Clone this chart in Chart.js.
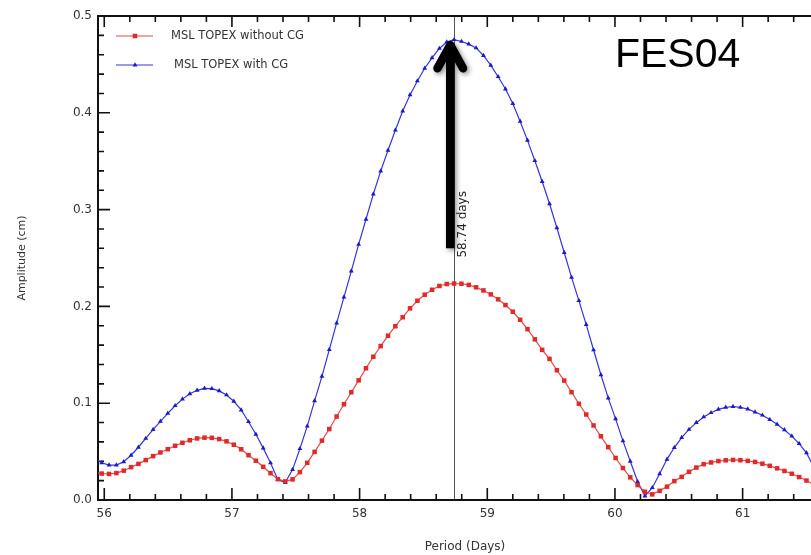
<!DOCTYPE html>
<html>
<head>
<meta charset="utf-8">
<title>FES04 amplitude spectrum</title>
<script src="https://cdn.jsdelivr.net/npm/chart.js@4.4.1/dist/chart.umd.min.js"></script>
<style>
  html, body { margin: 0; padding: 0; background: #fff; overflow: hidden; }
  #wrap { width: 840px; height: 555px; }
</style>
</head>
<body>
<div id="wrap"><canvas id="amp" width="840" height="555"></canvas></div>
<script>
// period axis (days)
const periods = [
  55.9225, 55.98, 56.0375, 56.095, 56.1525, 56.21, 56.2675, 56.325, 56.3825, 56.44,
  56.4975, 56.555, 56.6125, 56.67, 56.7275, 56.785, 56.8425, 56.9, 56.9575, 57.015,
  57.0725, 57.13, 57.1875, 57.245, 57.3025, 57.36, 57.4175, 57.475, 57.5325, 57.59,
  57.6475, 57.705, 57.7625, 57.82, 57.8775, 57.935, 57.9925, 58.05, 58.1075, 58.165,
  58.2225, 58.28, 58.3375, 58.395, 58.4525, 58.51, 58.5675, 58.625, 58.6825, 58.74,
  58.7975, 58.855, 58.9125, 58.97, 59.0275, 59.085, 59.1425, 59.2, 59.2575, 59.315,
  59.3725, 59.43, 59.4875, 59.545, 59.6025, 59.66, 59.7175, 59.775, 59.8325, 59.89,
  59.9475, 60.005, 60.0625, 60.12, 60.1775, 60.235, 60.2925, 60.35, 60.4075, 60.465,
  60.5225, 60.58, 60.6375, 60.695, 60.7525, 60.81, 60.8675, 60.925, 60.9825, 61.04,
  61.0975, 61.155, 61.2125, 61.27, 61.3275, 61.385, 61.4425, 61.5, 61.5575
];

// amplitude (cm), MSL TOPEX without CG
const ampWithoutCG = [
  0.0282, 0.0273, 0.0269, 0.0278, 0.0303, 0.0339, 0.0373, 0.0412, 0.0453, 0.0491,
  0.0525, 0.0560, 0.0591, 0.0617, 0.0636, 0.0644, 0.0642, 0.0629, 0.0606, 0.0571,
  0.0524, 0.0463, 0.0406, 0.0343, 0.0277, 0.0215, 0.0192, 0.0213, 0.0288, 0.0384,
  0.0497, 0.0613, 0.0733, 0.0862, 0.0989, 0.1113, 0.1236, 0.1361, 0.1480, 0.1590,
  0.1697, 0.1795, 0.1888, 0.1980, 0.2058, 0.2121, 0.2172, 0.2211, 0.2231, 0.2236,
  0.2234, 0.2222, 0.2197, 0.2165, 0.2124, 0.2073, 0.2014, 0.1945, 0.1862, 0.1765,
  0.1660, 0.1551, 0.1458, 0.1340, 0.1234, 0.1114, 0.0994, 0.0883, 0.0770, 0.0658,
  0.0546, 0.0434, 0.0330, 0.0234, 0.0154, 0.0085, 0.0058, 0.0095, 0.0138, 0.0195,
  0.0239, 0.0291, 0.0335, 0.0370, 0.0388, 0.0402, 0.0410, 0.0414, 0.0411, 0.0404,
  0.0393, 0.0375, 0.0353, 0.0327, 0.0300, 0.0271, 0.0237, 0.0201, 0.0160
];

// amplitude (cm), MSL TOPEX with CG
const ampWithCG = [
  0.0425, 0.0385, 0.0360, 0.0360, 0.0395, 0.0462, 0.0545, 0.0636, 0.0727, 0.0813,
  0.0895, 0.0974, 0.1042, 0.1097, 0.1133, 0.1153, 0.1150, 0.1127, 0.1085, 0.1020,
  0.0930, 0.0809, 0.0679, 0.0536, 0.0383, 0.0210, 0.0180, 0.0314, 0.0530, 0.0763,
  0.1024, 0.1277, 0.1553, 0.1828, 0.2096, 0.2365, 0.2640, 0.2900, 0.3160, 0.3398,
  0.3613, 0.3820, 0.4018, 0.4185, 0.4329, 0.4460, 0.4568, 0.4665, 0.4732, 0.4755,
  0.4737, 0.4709, 0.4670, 0.4592, 0.4490, 0.4373, 0.4246, 0.4095, 0.3911, 0.3715,
  0.3505, 0.3290, 0.3060, 0.2812, 0.2557, 0.2300, 0.2060, 0.1812, 0.1550, 0.1294,
  0.1052, 0.0838, 0.0611, 0.0400, 0.0191, 0.0040, 0.0127, 0.0271, 0.0420, 0.0542,
  0.0645, 0.0729, 0.0799, 0.0858, 0.0902, 0.0936, 0.0957, 0.0966, 0.0956, 0.0940,
  0.0908, 0.0876, 0.0831, 0.0782, 0.0724, 0.0660, 0.0582, 0.0487, 0.0340
];

const seriesNames = ['MSL TOPEX without CG', 'MSL TOPEX with CG'];
const xTickValues = [56, 57, 58, 59, 60, 61];
const yTickValues = [0.0, 0.1, 0.2, 0.3, 0.4, 0.5];
const peakPeriod = 58.74;
const modelName = 'FES04';

const FONT = 'DejaVu Sans';
const RED_LINE = '#e24a4a', RED_PT = '#e02a2a';
const BLUE_LINE = '#3636d8', BLUE_PT = '#1a1acc';

Chart.defaults.font.family = FONT;

function toPoints(vals) {
  return periods.map((p, i) => ({ x: p, y: vals[i] }));
}

// axis box with inward ticks, peak marker line
const framePlugin = {
  id: 'frame',
  beforeDatasetsDraw(chart) {
    const { ctx, chartArea: a, scales: { x, y } } = chart;
    ctx.save();
    // peak line
    const px = x.getPixelForValue(peakPeriod);
    ctx.strokeStyle = '#555';
    ctx.lineWidth = 1;
    ctx.beginPath();
    ctx.moveTo(Math.round(px) + 0.5, a.top);
    ctx.lineTo(Math.round(px) + 0.5, a.bottom);
    ctx.stroke();

    ctx.strokeStyle = '#111';
    ctx.lineWidth = 1.6;
    ctx.beginPath();
    for (let i = 0; i <= 28; i++) {
      const v = 56 + i * 0.2;
      const xp = x.getPixelForValue(v);
      const big = i % 5 === 0;
      ctx.moveTo(xp, a.bottom);
      ctx.lineTo(xp, a.bottom - (big ? 12 : 6));
      ctx.moveTo(xp, a.top);
      ctx.lineTo(xp, a.top + (big ? 11 : 6));
    }
    for (let i = 0; i <= 25; i++) {
      const yp = y.getPixelForValue(i * 0.02);
      const big = i % 5 === 0;
      ctx.moveTo(a.left, yp);
      ctx.lineTo(a.left + (big ? 12 : 6), yp);
    }
    ctx.stroke();

    ctx.lineWidth = 2;
    ctx.beginPath();
    ctx.moveTo(a.right, a.top);
    ctx.lineTo(a.left, a.top);
    ctx.lineTo(a.left, a.bottom);
    ctx.lineTo(a.right, a.bottom);
    ctx.stroke();
    ctx.restore();
  },
  afterDatasetsDraw(chart) {
    const { ctx, chartArea: a, scales: { x, y } } = chart;
    ctx.save();

    // big arrow pointing at the peak
    const ax = x.getPixelForValue(58.71);
    const yBase = y.getPixelForValue(0.26);
    const yTip = y.getPixelForValue(0.470);
    const yHead = y.getPixelForValue(0.446);
    const dx = x.getPixelForValue(58.71 + 0.10) - ax;
    ctx.shadowColor = 'rgba(0,0,0,0.45)';
    ctx.shadowBlur = 5;
    ctx.shadowOffsetX = 2;
    ctx.shadowOffsetY = 2;
    ctx.strokeStyle = '#000';
    ctx.lineWidth = 8.5;
    ctx.lineCap = 'butt';
    ctx.beginPath();
    ctx.moveTo(ax, yBase);
    ctx.lineTo(ax, yTip + 3);
    ctx.stroke();
    ctx.lineCap = 'round';
    ctx.lineJoin = 'round';
    ctx.beginPath();
    ctx.moveTo(ax - dx, yHead);
    ctx.lineTo(ax, yTip);
    ctx.lineTo(ax + dx, yHead);
    ctx.stroke();
    ctx.restore();

    // rotated peak label
    ctx.save();
    const lx = x.getPixelForValue(peakPeriod) + 12;
    const ly = y.getPixelForValue(0.2505);
    ctx.translate(lx, ly);
    ctx.rotate(-Math.PI / 2);
    ctx.fillStyle = '#222';
    ctx.font = '12px "' + FONT + '"';
    ctx.textAlign = 'left';
    ctx.textBaseline = 'alphabetic';
    ctx.fillText(peakPeriod.toFixed(2) + ' days', 0, 0);
    ctx.restore();

    // model name
    ctx.save();
    ctx.fillStyle = '#000';
    ctx.font = '41px "Liberation Sans"';
    ctx.textAlign = 'left';
    ctx.textBaseline = 'alphabetic';
    ctx.fillText(modelName, x.getPixelForValue(60.0), y.getPixelForValue(0.447));
    ctx.restore();

    // legend
    ctx.save();
    const rows = [
      { name: seriesNames[0], line: RED_LINE, pt: RED_PT, style: 'rect', r: 3.2, dy: 20, tx: 73 },
      { name: seriesNames[1], line: BLUE_LINE, pt: BLUE_PT, style: 'triangle', r: 2.8, dy: 49, tx: 76 }
    ];
    ctx.font = '11.5px "' + FONT + '"';
    ctx.textBaseline = 'middle';
    rows.forEach(r => {
      const ry = a.top + r.dy;
      ctx.strokeStyle = r.line;
      ctx.lineWidth = 1.2;
      ctx.beginPath();
      ctx.moveTo(a.left + 18, ry);
      ctx.lineTo(a.left + 55, ry);
      ctx.stroke();
      ctx.fillStyle = r.pt;
      Chart.helpers.drawPoint(ctx, { pointStyle: r.style, radius: r.r, rotation: 0, borderWidth: 0 }, a.left + 37, ry);
      ctx.fillStyle = '#333';
      ctx.fillText(r.name, a.left + r.tx, ry);
    });
    ctx.restore();
  }
};

new Chart(document.getElementById('amp'), {
  type: 'line',
  data: {
    datasets: [
      {
        label: seriesNames[0],
        data: toPoints(ampWithoutCG),
        borderColor: RED_LINE,
        borderWidth: 1.2,
        pointStyle: 'rect',
        pointRadius: 3.2,
        pointBorderWidth: 0,
        pointBackgroundColor: RED_PT,
        tension: 0
      },
      {
        label: seriesNames[1],
        data: toPoints(ampWithCG),
        borderColor: BLUE_LINE,
        borderWidth: 1.2,
        pointStyle: 'triangle',
        pointRadius: 2.8,
        pointBorderWidth: 0,
        pointBackgroundColor: BLUE_PT,
        tension: 0
      }
    ]
  },
  options: {
    responsive: false,
    animation: false,
    layout: { padding: { left: 0, top: 16, right: 8, bottom: 0 } },
    plugins: { legend: { display: false }, tooltip: { enabled: false } },
    scales: {
      x: {
        type: 'linear',
        min: 55.951,
        max: 61.7,
        grid: { display: false, drawTicks: false },
        border: { display: false },
        afterBuildTicks: s => { s.ticks = xTickValues.map(v => ({ value: v })); },
        afterFit: s => { s.height = 55; },
        ticks: {
          color: '#333',
          font: { size: 12 },
          padding: 7,
          maxRotation: 0,
          autoSkip: false,
          callback: v => String(v)
        },
        title: {
          display: true,
          text: 'Period (Days)',
          color: '#333',
          font: { size: 12 },
          padding: { top: 0, bottom: 1 }
        }
      },
      y: {
        type: 'linear',
        min: 0,
        max: 0.5,
        grid: { display: false, drawTicks: false },
        border: { display: false },
        afterBuildTicks: s => { s.ticks = yTickValues.map(v => ({ value: v })); },
        afterFit: s => { s.width = 98; },
        ticks: {
          color: '#333',
          font: { size: 12 },
          padding: 6,
          autoSkip: false,
          callback: v => Number(v).toFixed(1)
        },
        title: {
          display: true,
          text: 'Amplitude (cm)',
          color: '#333',
          font: { size: 11 },
          padding: { top: 16, bottom: 0 }
        }
      }
    }
  },
  plugins: [framePlugin]
});
</script>
</body>
</html>
